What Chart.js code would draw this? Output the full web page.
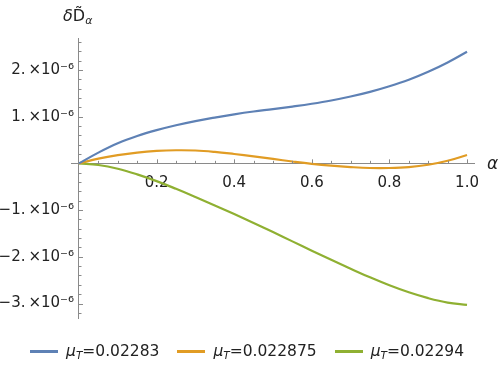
<!DOCTYPE html>
<html>
<head>
<meta charset="utf-8">
<script src="https://cdn.jsdelivr.net/npm/chart.js@4/dist/chart.umd.min.js"></script>
<style>
  html, body { margin: 0; padding: 0; background: #fff; }
  #wrap { position: relative; width: 498px; height: 374px; font-family: "DejaVu Sans", sans-serif; color: #222; }
  #c { position: absolute; left: 0; top: 0; }
  .lbl { position: absolute; white-space: nowrap; line-height: 1; }
  #ytitle { left: 63px; top: 8px; font-size: 16px; }
  #ytitle sub, .leg sub { font-size: 0.68em; vertical-align: -0.3em; }
  #xtitle { left: 487px; top: 155px; font-size: 17px; font-style: italic; }
  #legend { position: absolute; left: 30px; top: 342px; display: flex; align-items: center; font-size: 15.5px; }
  .leg { display: flex; align-items: center; margin-right: 18px; }
  .sw { width: 28px; height: 2.5px; margin-right: 8px; }
</style>
</head>
<body>
<div id="wrap">
  <canvas id="c" width="498" height="374"></canvas>
  <div class="lbl" id="ytitle"><i>δ</i>D&#771;<sub><i>α</i></sub></div>
  <div class="lbl" id="xtitle">α</div>
  <div id="legend"></div>
</div>
<script>
// ---- data ----
const alphaValues = [0, 0.05, 0.1, 0.15, 0.2, 0.25, 0.3, 0.35, 0.4, 0.45, 0.5,
                     0.55, 0.6, 0.65, 0.7, 0.75, 0.8, 0.85, 0.9, 0.95, 1.0];
const seriesLabels = ["0.02283", "0.022875", "0.02294"];
const blueValues = [0, 0.23e-6, 0.43e-6, 0.585e-6, 0.71e-6, 0.815e-6, 0.905e-6, 0.98e-6, 1.05e-6, 1.11e-6, 1.16e-6,
                    1.215e-6, 1.275e-6, 1.345e-6, 1.43e-6, 1.53e-6, 1.65e-6, 1.79e-6, 1.96e-6, 2.16e-6, 2.39e-6];
const orangeValues = [0, 0.10e-6, 0.175e-6, 0.23e-6, 0.265e-6, 0.28e-6, 0.275e-6, 0.245e-6, 0.20e-6, 0.15e-6, 0.095e-6,
                      0.04e-6, -0.01e-6, -0.05e-6, -0.08e-6, -0.10e-6, -0.10e-6, -0.08e-6, -0.03e-6, 0.055e-6, 0.18e-6];
const greenValues = [0, -0.035e-6, -0.115e-6, -0.235e-6, -0.38e-6, -0.545e-6, -0.72e-6, -0.90e-6, -1.085e-6, -1.275e-6, -1.47e-6,
                     -1.67e-6, -1.87e-6, -2.065e-6, -2.255e-6, -2.44e-6, -2.61e-6, -2.76e-6, -2.885e-6, -2.98e-6, -3.03e-6];
const xTickValues = [0.2, 0.4, 0.6, 0.8, 1.0];
const xTickLabels = ["0.2", "0.4", "0.6", "0.8", "1.0"];
const yTickValues = [-3e-6, -2e-6, -1e-6, 1e-6, 2e-6];
const yTickLabels = ["\u22123.\u2009\u00d710\u207b\u2076", "\u22122.\u2009\u00d710\u207b\u2076", "\u22121.\u2009\u00d710\u207b\u2076",
                     "1.\u2009\u00d710\u207b\u2076", "2.\u2009\u00d710\u207b\u2076"];

const colors = ["rgb(94,129,181)", "rgb(225,156,36)", "rgb(143,176,50)"];
const axisColor = "#8a8a8a";

const allSeries = [blueValues, orangeValues, greenValues];
const datasets = allSeries.map((vals, i) => ({
  label: "\u03bcT=" + seriesLabels[i],
  data: alphaValues.map((a, j) => ({ x: a, y: vals[j] })),
  borderColor: colors[i],
  backgroundColor: colors[i],
  borderWidth: 2.2,
  pointRadius: 0,
  tension: 0.4,
  fill: false
}));

const tickPlugin = {
  id: "axisTicks",
  afterDraw(chart) {
    const { ctx, scales: { x, y } } = chart;
    const x0 = x.getPixelForValue(0);
    const y0 = y.getPixelForValue(0);
    ctx.save();
    ctx.strokeStyle = axisColor;
    ctx.lineWidth = 1;
    ctx.beginPath();
    for (let i = 1; i <= 20; i++) {
      const px = Math.round(x.getPixelForValue(i * 0.05)) + 0.5;
      const len = i % 4 === 0 ? 4 : 2.5;
      ctx.moveTo(px, y0);
      ctx.lineTo(px, y0 - len);
    }
    for (let k = -16; k <= 13; k++) {
      if (k === 0) continue;
      const py = Math.round(y.getPixelForValue(k * 0.2e-6)) + 0.5;
      const len = k % 5 === 0 ? 4 : 2.5;
      ctx.moveTo(x0, py);
      ctx.lineTo(x0 + len, py);
    }
    ctx.stroke();
    ctx.restore();
  }
};

new Chart(document.getElementById("c"), {
  type: "line",
  data: { datasets },
  options: {
    responsive: false,
    animation: false,
    devicePixelRatio: 1,
    layout: { padding: { left: 71, right: 24, top: 38, bottom: 56 } },
    plugins: { legend: { display: false }, tooltip: { enabled: false } },
    scales: {
      x: {
        type: "linear",
        min: -0.0206,
        max: 1.018,
        position: { y: 0 },
        afterFit(s) { s.height = 0; },
        afterBuildTicks(s) { s.ticks = xTickValues.map(v => ({ value: v })); },
        grid: { display: false, drawTicks: false },
        border: { display: true, color: axisColor, width: 1 },
        ticks: {
          padding: 11,
          color: "#222",
          font: { family: "DejaVu Sans", size: 15 },
          maxRotation: 0,
          autoSkip: false,
          callback: (v) => xTickLabels[xTickValues.indexOf(v)]
        }
      },
      y: {
        type: "linear",
        min: -3.31e-6,
        max: 2.683e-6,
        position: { x: 0 },
        afterFit(s) { s.width = 0; },
        afterBuildTicks(s) { s.ticks = yTickValues.map(v => ({ value: v })); },
        grid: { display: false, drawTicks: false },
        border: { display: true, color: axisColor, width: 1 },
        ticks: {
          padding: 5,
          color: "#222",
          font: { family: "DejaVu Sans", size: 15 },
          autoSkip: false,
          callback: (v) => yTickLabels[yTickValues.indexOf(v)] + "\u2004"
        }
      }
    }
  },
  plugins: [tickPlugin]
});

// HTML legend (keeps italic mu with subscript T)
const legend = document.getElementById("legend");
seriesLabels.forEach((lab, i) => {
  const item = document.createElement("div");
  item.className = "leg";
  item.innerHTML = '<span class="sw" style="background:' + colors[i] + '"></span><span><i>\u03bc</i><sub><i>T</i></sub>=' + lab + '</span>';
  legend.appendChild(item);
});
</script>
</body>
</html>
